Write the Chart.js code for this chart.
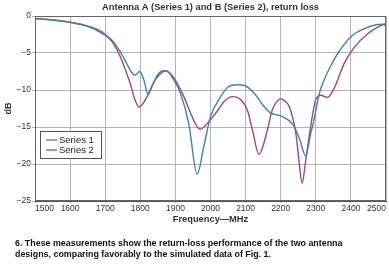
<!DOCTYPE html>
<html>
<head>
<meta charset="utf-8">
<script src="https://cdn.jsdelivr.net/npm/chart.js"></script>
<style>
  html, body { margin: 0; padding: 0; background: #fff; }
  #wrap { width: 389px; height: 269px; }
</style>
</head>
<body>
<div id="wrap"><canvas id="rl" width="389" height="269"></canvas></div>
<script>
    // values (MHz / dB)
    const freq1 = [1500, 1550, 1600, 1650, 1690, 1700, 1720, 1740, 1760, 1775, 1785, 1798, 1810, 1822, 1835, 1850, 1866, 1880, 1895, 1914, 1938, 1962, 1981, 2000, 2029, 2050, 2076, 2095, 2124, 2152, 2171, 2200, 2220, 2238, 2255, 2271, 2285, 2295, 2310, 2324, 2345, 2362, 2400, 2438, 2476, 2490, 2500];
    const series1 = [-0.35, -0.55, -0.85, -1.35, -2.1, -2.5, -3.3, -4.6, -6.3, -7.6, -8.0, -7.5, -8.6, -10.6, -9.3, -7.9, -7.4, -7.6, -8.6, -10.4, -14.5, -21.4, -17.6, -13.6, -10.9, -9.6, -9.3, -9.35, -10.4, -12.2, -13.1, -13.5, -14.0, -14.9, -16.8, -18.9, -16.0, -14.0, -10.5, -8.6, -6.5, -5.1, -2.8, -1.7, -1.15, -1.1, -1.3];

    const freq2 = [1500, 1550, 1600, 1650, 1690, 1700, 1720, 1743, 1771, 1786, 1797, 1808, 1819, 1843, 1860, 1873, 1890, 1905, 1925, 1943, 1960, 1971, 1985, 2000, 2020, 2038, 2062, 2086, 2105, 2120, 2138, 2150, 2162, 2176, 2190, 2200, 2212, 2224, 2243, 2252, 2261, 2270, 2281, 2300, 2314, 2333, 2352, 2381, 2410, 2448, 2486, 2500];
    const series2 = [-0.35, -0.55, -0.85, -1.4, -2.3, -2.6, -3.5, -5.5, -9.1, -11.5, -12.3, -11.8, -10.9, -8.6, -7.7, -7.4, -8.0, -9.1, -11.0, -13.1, -14.8, -15.3, -14.8, -14.0, -12.8, -11.6, -10.9, -11.3, -12.7, -15.5, -18.7, -17.5, -15.4, -12.7, -11.5, -11.2, -11.5, -12.2, -15.8, -19.5, -22.6, -20.0, -16.3, -11.3, -10.7, -11.0, -9.8, -6.4, -4.2, -2.4, -1.26, -1.05];

    const xTicks = [1500, 1600, 1700, 1800, 1900, 2000, 2100, 2200, 2300, 2400, 2500];
    const yTicks = [0, -5, -10, -15, -20, -25];

    const chartTitle = 'Antenna A (Series 1) and B (Series 2), return loss';
    const caption = [
        '6. These measurements show the return-loss performance of the two antenna',
        'designs, comparing favorably to the simulated data of Fig. 1.'
    ];

    const toPoints = (xs, ys) => xs.map((x, i) => ({ x: x, y: ys[i] }));
    const FONT = '"Liberation Sans", Arial, sans-serif';

    // frame, title, legend box and caption
    const extras = {
        id: 'extras',
        afterDraw(chart) {
            const ctx = chart.ctx;
            const a = chart.chartArea;
            ctx.save();
            ctx.strokeStyle = '#666';
            ctx.lineWidth = 1;
            ctx.strokeRect(Math.round(a.left) + 0.5, Math.round(a.top) + 0.5,
                Math.round(a.right - a.left) - 1, Math.round(a.bottom - a.top) - 1);

            ctx.fillStyle = '#333';
            ctx.font = 'bold 9.3px ' + FONT;
            ctx.textAlign = 'center';
            ctx.textBaseline = 'middle';
            ctx.fillText(chartTitle, (a.left + a.right) / 2, 7);

            // legend
            const lx = 40, ly = 131, lw = 61, lh = 27;
            ctx.fillStyle = '#fff';
            ctx.fillRect(lx, ly, lw, lh);
            ctx.strokeStyle = '#555';
            ctx.strokeRect(lx + 0.5, ly + 0.5, lw, lh);
            ctx.font = '9.5px ' + FONT;
            ctx.textAlign = 'left';
            chart.data.datasets.forEach((ds, i) => {
                const yy = 140 + i * 10;
                ctx.strokeStyle = ds.borderColor;
                ctx.lineWidth = 1.3;
                ctx.beginPath();
                ctx.moveTo(46, yy);
                ctx.lineTo(57, yy);
                ctx.stroke();
                ctx.fillStyle = '#222';
                ctx.fillText(ds.label, 59, yy);
            });

            ctx.fillStyle = '#111';
            ctx.font = 'bold 8.9px ' + FONT;
            ctx.fillText(caption[0], 15, 244);
            ctx.fillText(caption[1], 15, 255);
            ctx.restore();
        }
    };

    const ctxRl = document.getElementById('rl');
    new Chart(ctxRl, {
        type: 'line',
        data: {
            datasets: [
                {
                    label: 'Series 1',
                    data: toPoints(freq1, series1),
                    borderColor: '#3f84a8',
                    borderWidth: 1.4,
                    pointRadius: 0,
                    cubicInterpolationMode: 'monotone',
                    fill: false
                },
                {
                    label: 'Series 2',
                    data: toPoints(freq2, series2),
                    borderColor: '#a0487a',
                    borderWidth: 1.4,
                    pointRadius: 0,
                    cubicInterpolationMode: 'monotone',
                    fill: false
                }
            ]
        },
        options: {
            responsive: false,
            animation: false,
            devicePixelRatio: 1,
            layout: { padding: { top: 16, right: 3, bottom: 43, left: 0 } },
            plugins: {
                legend: { display: false },
                tooltip: { enabled: false }
            },
            scales: {
                x: {
                    type: 'linear',
                    min: 1500,
                    max: 2500,
                    afterBuildTicks: s => { s.ticks = xTicks.map(v => ({ value: v })); },
                    afterFit: s => { s.height = 25; },
                    grid: { color: '#b4b4b4', tickLength: 2 },
                    border: { color: '#555' },
                    ticks: {
                        align: 'inner',
                        padding: 1,
                        color: '#333',
                        font: { family: FONT, size: 8.5 },
                        maxRotation: 0,
                        callback: v => String(v)
                    },
                    title: {
                        display: true,
                        text: 'Frequency\u2014MHz',
                        color: '#333',
                        font: { family: FONT, size: 9.3, weight: 'bold' },
                        padding: { top: 0, bottom: 1 }
                    }
                },
                y: {
                    min: -25,
                    max: 0,
                    afterBuildTicks: s => { s.ticks = yTicks.map(v => ({ value: v })); },
                    afterFit: s => { s.width = 35; },
                    grid: { color: '#b4b4b4', tickLength: 3 },
                    border: { color: '#555' },
                    ticks: {
                        padding: 1,
                        color: '#333',
                        font: { family: FONT, size: 8.5 },
                        callback: v => String(v).replace('-', '\u2212')
                    },
                    title: {
                        display: true,
                        text: 'dB',
                        color: '#333',
                        font: { family: FONT, size: 9, weight: 'bold' },
                        padding: { top: 3, bottom: 0 }
                    }
                }
            }
        },
        plugins: [extras]
    });
</script>
</body>
</html>
